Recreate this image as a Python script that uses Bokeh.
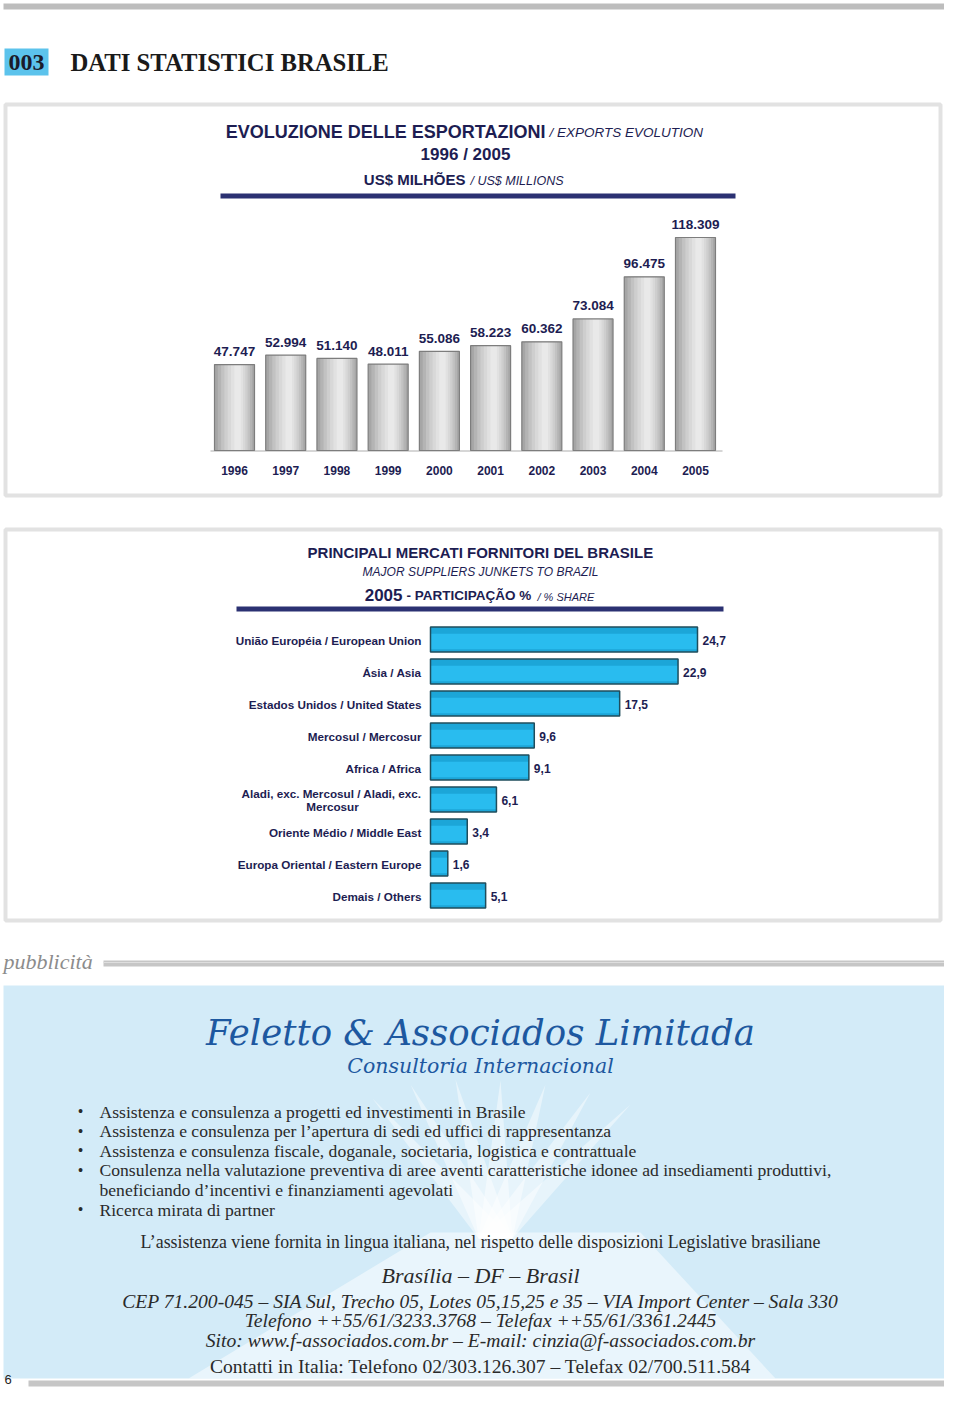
from bokeh.plotting import figure
from bokeh.models import Range1d, ColumnDataSource
from bokeh.core.properties import value
from bokeh.transform import dodge
from bokeh.embed import file_html
from bokeh.resources import INLINE

# ---------------- data ----------------
years = [1996, 1997, 1998, 1999, 2000, 2001, 2002, 2003, 2004, 2005]
exports = [47747, 52994, 51140, 48011, 55086, 58223, 60362, 73084, 96475, 118309]

markets = [
    "União Européia / European Union",
    "Ásia / Asia",
    "Estados Unidos / United States",
    "Mercosul / Mercosur",
    "Africa / Africa",
    "Aladi, exc. Mercosul / Aladi, exc. Mercosur",
    "Oriente Médio / Middle East",
    "Europa Oriental / Eastern Europe",
    "Demais / Others",
]
shares = [24.7, 22.9, 17.5, 9.6, 9.1, 6.1, 3.4, 1.6, 5.1]

bullet_items = [
    ["Assistenza e consulenza a progetti ed investimenti in Brasile"],
    ["Assistenza e consulenza per l\u2019apertura di sedi ed uffici di rappresentanza"],
    ["Assistenza e consulenza fiscale, doganale, societaria, logistica e contrattuale"],
    ["Consulenza nella valutazione preventiva di aree aventi caratteristiche idonee ad insediamenti produttivi,",
     "beneficiando d\u2019incentivi e finanziamenti agevolati"],
    ["Ricerca mirata di partner"],
]

# ---------------- page geometry ----------------
W, H = 944, 1389
X0, Y0 = 0, 0
NAVY = "#1d1d52"
SANS = value("Liberation Sans")
SERIF = value("Liberation Serif")

p = figure(width=W, height=H, x_range=Range1d(X0, X0 + W), y_range=Range1d(Y0 + H, Y0),
           x_axis_type=None, y_axis_type=None, toolbar_location=None, output_backend="svg",
           min_border=0, outline_line_color=None, background_fill_color="white",
           border_fill_color="white")
p.grid.visible = False

# chart 1 scales (years numeric x, export values y)
YR_PX = 51.22
yr_start = 1996 - (234 - X0) / YR_PX
p.extra_x_ranges["yr"] = Range1d(yr_start, yr_start + W / YR_PX)
EXP_K = 213.0 / 118309.0
exp_end = (450 - Y0) / EXP_K
p.extra_y_ranges["exp"] = Range1d(exp_end - H / EXP_K, exp_end)

# chart 2 scales (share x, row index y)
SH_K = 267.0 / 24.7
sh_start = -(430 - X0) / SH_K
p.extra_x_ranges["sh"] = Range1d(sh_start, sh_start + W / SH_K)
ROW_PX = 32.0
row_end = -(639 - Y0) / ROW_PX
p.extra_y_ranges["row"] = Range1d(row_end + H / ROW_PX, row_end)


def txt(x, y, t, size, font=SANS, style="normal", color=NAVY, align="left", baseline="middle"):
    p.text(x=[x], y=[y], text=[t], text_font=font, text_font_style=style,
           text_font_size=f"{size}px", text_color=color, text_align=align, text_baseline=baseline)


# ---------------- header ----------------
p.quad(left=[3], right=[944], top=[3], bottom=[9], fill_color="#bdbdbd", line_color=None)
p.quad(left=[4], right=[48], top=[48], bottom=[75], fill_color="#5cc3ec", line_color=None)
txt(26, 62, "003", 24, font=SERIF, style="bold", color="#1a1a2a", align="center")
txt(70, 62, "DATI STATISTICI BRASILE", 24.7, font=SERIF, style="bold", color="#1a1a1a")

# ---------------- chart 1 box ----------------
p.quad(left=[5], right=[940], top=[104], bottom=[495], fill_color=None,
       line_color="#e2e2e2", line_width=4)
txt(545, 131, "EVOLUZIONE DELLE ESPORTAZIONI", 18, style="bold", align="right")
txt(549, 132, "/ EXPORTS EVOLUTION", 13.5, style="italic")
txt(465, 154, "1996 / 2005", 17, style="bold", align="center")
txt(465, 179, "US$ MILHÕES", 15, style="bold", align="right")
txt(470, 180, "/ US$ MILLIONS", 12.5, style="italic")
p.quad(left=[220], right=[735], top=[193], bottom=[198], fill_color="#2b3172", line_color=None)

src1 = ColumnDataSource(dict(year=years, val=exports,
                             lab=[f"{v:,}".replace(",", ".") for v in exports]))
BW = 40.0 / YR_PX
p.segment(x0=[210], x1=[722], y0=[450.5], y1=[450.5], line_color="#d6d6d6", line_width=2)
p.vbar(x="year", top="val", bottom=0, width=BW, source=src1, x_range_name="yr",
       y_range_name="exp", fill_color="#a6a6a6", line_color=None)
layers = [(0.86, "#b4b4b4"), (0.72, "#c2c2c2"), (0.58, "#cecece"), (0.44, "#d8d8d8"),
          (0.30, "#e1e1e1"), (0.16, "#e9e9e9")]
for frac, col in layers:
    p.vbar(x=dodge("year", 0.09 * BW * (1 - frac), range=p.extra_x_ranges["yr"]),
           top="val", bottom=0, width=BW * frac, source=src1,
           x_range_name="yr", y_range_name="exp", fill_color=col, line_color=None)
p.vbar(x="year", top="val", bottom=0, width=BW, source=src1, x_range_name="yr",
       y_range_name="exp", fill_color=None, line_color="#7d7d7d", line_width=1.2)
p.text(x="year", y="val", text="lab", source=src1, x_range_name="yr", y_range_name="exp",
       y_offset=-13, text_font=SANS, text_font_style="bold", text_font_size="13.5px",
       text_color=NAVY, text_align="center", text_baseline="middle")
src_y = ColumnDataSource(dict(year=years, lab=[str(y) for y in years], yy=[470] * len(years)))
p.text(x="year", y="yy", text="lab", source=src_y, x_range_name="yr",
       text_font=SANS, text_font_style="bold", text_font_size="12px",
       text_color=NAVY, text_align="center", text_baseline="middle")

# ---------------- chart 2 box ----------------
p.quad(left=[5], right=[940], top=[529], bottom=[920], fill_color=None,
       line_color="#e2e2e2", line_width=4)
txt(480, 552, "PRINCIPALI MERCATI FORNITORI DEL BRASILE", 15, style="bold", align="center")
txt(480, 571, "MAJOR SUPPLIERS JUNKETS TO BRAZIL", 12, style="italic", align="center")
txt(402, 594, "2005", 17, style="bold", align="right")
txt(406, 595, "- PARTICIPAÇÃO %", 13.5, style="bold")
txt(537, 596, "/ % SHARE", 11, style="italic")
p.quad(left=[236], right=[723], top=[606], bottom=[611], fill_color="#2b3172", line_color=None)

rows = list(range(len(markets)))
src2 = ColumnDataSource(dict(row=rows, share=shares,
                             lab=[str(s).replace(".", ",") for s in shares]))
BH = 25.0 / ROW_PX
p.hbar(y="row", right="share", left=0, height=BH, source=src2, x_range_name="sh",
       y_range_name="row", fill_color="#1ca6d8", line_color=None)
p.hbar(y=dodge("row", 0.06, range=p.extra_y_ranges["row"]), right="share", left=0,
       height=BH * 0.62, source=src2, x_range_name="sh", y_range_name="row",
       fill_color="#29bcef", line_color=None)
p.hbar(y="row", right="share", left=0, height=BH, source=src2, x_range_name="sh",
       y_range_name="row", fill_color=None, line_color="#1f4d5c", line_width=1.5)
p.text(x="share", y="row", text="lab", source=src2, x_range_name="sh", y_range_name="row",
       x_offset=5, y_offset=1, text_font=SANS, text_font_style="bold", text_font_size="12px",
       text_color=NAVY, text_align="left", text_baseline="middle")

single = [(i, m) for i, m in enumerate(markets) if not m.startswith("Aladi")]
src_lab = ColumnDataSource(dict(row=[i for i, _ in single], lab=[m for _, m in single],
                                xx=[421] * len(single)))
p.text(x="xx", y="row", text="lab", source=src_lab, y_range_name="row", y_offset=1,
       text_font=SANS, text_font_style="bold", text_font_size="11.7px",
       text_color=NAVY, text_align="right", text_baseline="middle")
ia = [i for i, m in enumerate(markets) if m.startswith("Aladi")][0]
p.text(x=[421], y=[ia], text=["Aladi, exc. Mercosul / Aladi, exc."], y_range_name="row",
       y_offset=-6, text_font=SANS, text_font_style="bold", text_font_size="11.7px",
       text_color=NAVY, text_align="right", text_baseline="middle")
p.text(x=[332], y=[ia], text=["Mercosur"], y_range_name="row", y_offset=7,
       text_font=SANS, text_font_style="bold", text_font_size="11.7px",
       text_color=NAVY, text_align="center", text_baseline="middle")

# ---------------- pubblicità ----------------
txt(3, 961, "pubblicità", 22, font=SERIF, style="italic", color="#8c8c8c")
p.quad(left=[103], right=[944], top=[960], bottom=[966], fill_color="#c6c6c6", line_color=None)
p.segment(x0=[103], x1=[944], y0=[962], y1=[962], line_color="#dedede", line_width=1)

# ad box
p.quad(left=[3], right=[944], top=[985], bottom=[1378], fill_color="#d3ebf8", line_color=None)
# decorative white fan / tree
fan_tips = [(372, 1098), (410, 1084), (455, 1079), (500, 1080), (545, 1084), (590, 1092), (630, 1104)]
xs, ys = [], []
for tx, ty in fan_tips:
    xs.append([tx, 478, 512])
    ys.append([ty, 1238, 1238])
p.patches(xs=xs, ys=ys, fill_color="white", fill_alpha=0.45, line_color=None)
p.patch(x=[430, 640, 775, 188], y=[1232, 1232, 1378, 1378], fill_color="white",
        fill_alpha=0.5, line_color=None)

AD_BLUE = "#1d58a0"
TXT = "#2a2a2a"
txt(480, 1032, "Feletto & Associados Limitada", 35.5, font=value("DejaVu Serif"),
    style="italic", color=AD_BLUE, align="center")
txt(480, 1065, "Consultoria Internacional", 20.5, font=value("DejaVu Serif"),
    style="italic", color=AD_BLUE, align="center")

line_y = 1111
for item in bullet_items:
    txt(80, line_y, "\u2022", 16, font=SERIF, color=TXT, align="center")
    for ln in item:
        txt(99, line_y, ln, 17.6, font=SERIF, color=TXT)
        line_y += 19.6

txt(480, 1241, "L\u2019assistenza viene fornita in lingua italiana, nel rispetto delle disposizioni Legislative brasiliane",
    17.8, font=SERIF, color=TXT, align="center")
txt(480, 1275, "Brasília \u2013 DF \u2013 Brasil", 22, font=SERIF, style="italic", color=TXT, align="center")
txt(480, 1301, "CEP 71.200-045 \u2013 SIA Sul, Trecho 05, Lotes 05,15,25 e 35 \u2013 VIA Import Center \u2013 Sala 330",
    19.6, font=SERIF, style="italic", color=TXT, align="center")
txt(480, 1320, "Telefono ++55/61/3233.3768 \u2013 Telefax ++55/61/3361.2445",
    19.6, font=SERIF, style="italic", color=TXT, align="center")
txt(480, 1340, "Sito: www.f-associados.com.br \u2013 E-mail: cinzia@f-associados.com.br",
    19.6, font=SERIF, style="italic", color=TXT, align="center")
txt(480, 1366, "Contatti in Italia: Telefono 02/303.126.307 \u2013 Telefax 02/700.511.584",
    19.6, font=SERIF, color=TXT, align="center")

# footer
txt(4, 1379, "6", 13, color="#222222")
p.quad(left=[28], right=[944], top=[1380], bottom=[1386], fill_color="#c6c6c6", line_color=None)

open("out.html", "w").write(file_html(p, INLINE))
